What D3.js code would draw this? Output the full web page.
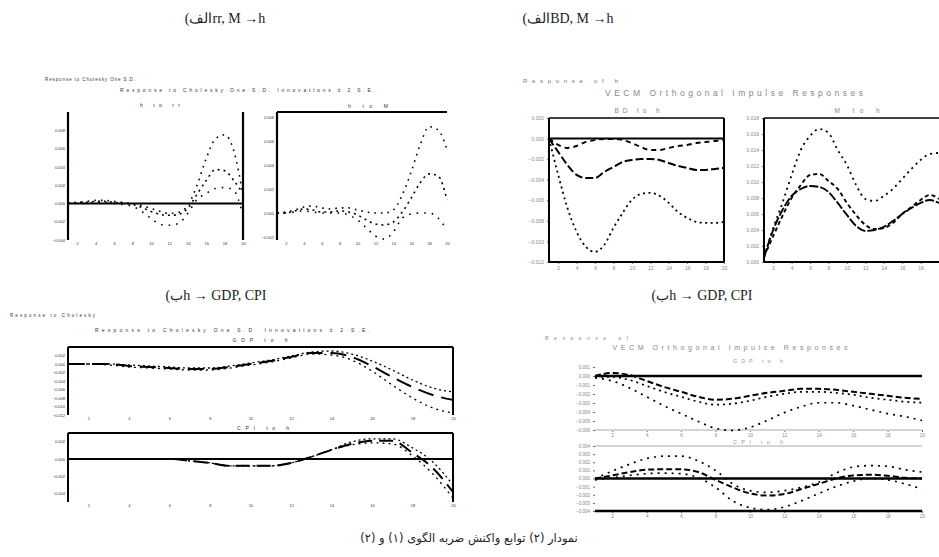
<!DOCTYPE html>
<html lang="fa">
<head>
<meta charset="UTF-8">
<title>Impulse response functions</title>
<script src="https://d3js.org/d3.v7.min.js"></script>
<style>
  body { margin: 0; background: #fff; }
  svg { display: block; }
  .tiny { font-family: "Liberation Sans", Arial, sans-serif; }
</style>
</head>
<body>
<svg id="fig" width="939" height="557"></svg>
<script>
// periods of the impulse responses
const periods = [1, 2, 3, 4, 5, 6, 7, 8, 9, 10, 11, 12, 13, 14, 15, 16, 17, 18, 19, 20];

// (alef) rr, M -> h : left sub-plot
const a1_hi  = [0, 0.00011, 0.00022, 0.00033, 0.00033, 0.00022, 0.00011, 0, -0.00022, -0.00054, -0.00087, -0.00109, -0.00098, -0.00022, 0.00196, 0.00489, 0.00707, 0.0075, 0.00576, 0.00087];
const a1_mid = [0, 0.00011, 0.00011, 0.00022, 0.00022, 0.00011, 0, -0.00011, -0.00043, -0.00087, -0.0012, -0.0013, -0.0012, -0.00054, 0.00098, 0.0025, 0.0037, 0.00359, 0.0025, 0.00109];
const a1_lo  = [0, 0, 0, 0.00011, 0.00011, 0, -0.00011, -0.00033, -0.00087, -0.00163, -0.00228, -0.00239, -0.00217, -0.00109, 0.00043, 0.00109, 0.00163, 0.00174, 0.00141, -0.0013];
// right sub-plot
const a2_hi  = [0, 0.00008, 0.00025, 0.0005, 0.00058, 0.00042, 0.00033, 0.00042, 0.00042, 0.00025, 0.00008, 0, 0, 0.00025, 0.0015, 0.00342, 0.00567, 0.00717, 0.00692, 0.00525];
const a2_mid = [0, 0, 0.00017, 0.00033, 0.00025, 0.00008, 0.00008, 0.00017, 0.00008, -0.00017, -0.00058, -0.00092, -0.001, -0.00075, 0.00008, 0.00125, 0.0025, 0.00325, 0.00308, 0.00108];
const a2_lo  = [0, 0, 0.00008, 0.00017, 0.00008, 0, 0, 0, -0.00017, -0.00058, -0.00125, -0.00192, -0.00217, -0.00158, -0.00042, -0.00008, 0, 0, -0.00042, -0.00142];

// (alef) BD, M -> h
const b1_hi  = [0, -0.00062, -0.00091, -0.00072, -0.00033, -0.00014, -0.00004, -0.00004, -0.00014, -0.00043, -0.00082, -0.00111, -0.00111, -0.00091, -0.00072, -0.00062, -0.00043, -0.00033, -0.00024, -0.00014];
const b1_mid = [0, -0.0013, -0.00256, -0.00353, -0.00383, -0.00383, -0.00324, -0.00276, -0.00227, -0.00208, -0.00198, -0.00198, -0.00208, -0.00237, -0.00266, -0.00285, -0.00305, -0.00305, -0.00295, -0.00285];
const b1_lo  = [0, -0.00353, -0.00674, -0.00907, -0.01053, -0.01101, -0.01033, -0.00868, -0.00722, -0.00596, -0.00538, -0.00528, -0.00557, -0.00625, -0.00713, -0.00771, -0.0081, -0.0082, -0.0082, -0.0081];
const b2_hi  = [0.0005, 0.00425, 0.00738, 0.01088, 0.014, 0.01575, 0.01663, 0.01613, 0.014, 0.01213, 0.00963, 0.00788, 0.00763, 0.00825, 0.00913, 0.01038, 0.01163, 0.01275, 0.0135, 0.01363];
const b2_mid = [0.00063, 0.00325, 0.00575, 0.008, 0.00963, 0.01088, 0.011, 0.01013, 0.00913, 0.00738, 0.00588, 0.00463, 0.00413, 0.00425, 0.00488, 0.006, 0.00688, 0.00775, 0.00838, 0.00788];
const b2_lo  = [0.00063, 0.004, 0.0065, 0.00825, 0.00913, 0.0095, 0.00938, 0.00875, 0.00738, 0.00588, 0.0045, 0.00388, 0.004, 0.00438, 0.00513, 0.006, 0.00675, 0.00738, 0.00775, 0.00738];

// (be) h -> GDP, CPI : left panel
const c1_hi  = [0, 0, 0, -0.00024, -0.00047, -0.00071, -0.00094, -0.00094, -0.00047, 0.00024, 0.00094, 0.00188, 0.00282, 0.00306, 0.00235, 0.00071, -0.00141, -0.00376, -0.00565, -0.00659];
const c1_mid = [0, 0, 0, -0.00047, -0.00071, -0.00094, -0.00118, -0.00118, -0.00071, 0, 0.00071, 0.00165, 0.00259, 0.00259, 0.00165, -0.00047, -0.00306, -0.00541, -0.00729, -0.00847];
const c1_lo  = [0, 0, -0.00024, -0.00071, -0.00094, -0.00118, -0.00141, -0.00141, -0.00094, -0.00024, 0.00047, 0.00141, 0.00235, 0.00212, 0.00094, -0.00165, -0.00494, -0.008, -0.01035, -0.01153];
const c2_hi  = [0, 0, 0, 0, 0, 0, -0.00023, -0.00047, -0.00081, -0.00081, -0.00081, -0.00047, 0.00023, 0.00105, 0.00198, 0.00233, 0.00233, 0.00128, -0.00035, -0.00302];
const c2_mid = [0, 0, 0, 0, 0, 0, -0.00023, -0.00047, -0.00081, -0.00081, -0.00081, -0.00047, 0.00023, 0.00105, 0.00174, 0.00209, 0.00209, 0.0007, -0.00105, -0.00384];
const c2_lo  = [0, 0, 0, 0, 0, 0, -0.00023, -0.00047, -0.00081, -0.00081, -0.00081, -0.00047, 0.00023, 0.00105, 0.00163, 0.00186, 0.00174, 0.00035, -0.00174, -0.00453];

// (be) h -> GDP, CPI : right panel
const d1_hi  = [0, 0.00033, 0.00011, -0.00055, -0.00121, -0.00176, -0.00231, -0.00264, -0.00253, -0.0022, -0.00187, -0.00165, -0.00143, -0.00143, -0.00154, -0.00176, -0.00198, -0.0022, -0.00242, -0.00253];
const d1_mid = [-0.00011, -0.00011, -0.00044, -0.0011, -0.00176, -0.00231, -0.00286, -0.00319, -0.00308, -0.00275, -0.00231, -0.00198, -0.00176, -0.00176, -0.00187, -0.00209, -0.00242, -0.00264, -0.00286, -0.00297];
const d1_lo  = [-0.00022, -0.00055, -0.00132, -0.00231, -0.0033, -0.00418, -0.00505, -0.00582, -0.00604, -0.00571, -0.00495, -0.00407, -0.00341, -0.00297, -0.00297, -0.0033, -0.00374, -0.00418, -0.00451, -0.00495];
const d2_hi  = [-0.00004, 0.00091, 0.00175, 0.00246, 0.00275, 0.00275, 0.00216, 0.001, -0.00066, -0.0015, -0.00171, -0.0015, -0.00109, -0.00046, 0.00066, 0.00141, 0.00159, 0.0015, 0.00109, 0.00079];
const d2_mid = [0, 0.00038, 0.00079, 0.00109, 0.00113, 0.00113, 0.00079, -0.00016, -0.00109, -0.00184, -0.00209, -0.00191, -0.00129, -0.00066, 0, 0.00038, 0.00046, 0.00034, 0.00009, 0];
const d2_lo  = [-0.00016, 0.00009, 0.00038, 0.00059, 0.00066, 0.00059, 0.00009, -0.00109, -0.00275, -0.00359, -0.00384, -0.0035, -0.00275, -0.00184, -0.001, -0.00034, 0, -0.00016, -0.00066, -0.00129];

// tick labels
const ticksA1 = [-0.004, -0.002, 0, 0.002, 0.004, 0.006, 0.008];
const ticksA2 = [-0.002, 0, 0.002, 0.004, 0.006, 0.008];
const ticksB1 = [-0.012, -0.01, -0.008, -0.006, -0.004, -0.002, 0, 0.002];
const ticksB2 = [0, 0.002, 0.004, 0.006, 0.008, 0.01, 0.012, 0.014, 0.016, 0.018];
const ticksC1 = [-0.012, -0.01, -0.008, -0.006, -0.004, -0.002, 0, 0.002];
const ticksC2 = [-0.004, -0.002, 0, 0.002];
const ticksD1 = [-0.006, -0.005, -0.004, -0.003, -0.002, -0.001, 0, 0.001];
const ticksD2 = [-0.004, -0.003, -0.002, -0.001, 0, 0.001, 0.002, 0.003, 0.004];
const xTicks = [2, 4, 6, 8, 10, 12, 14, 16, 18, 20];
const xTicksEdge = [2, 4, 6, 8, 10, 12, 14, 16, 18];

const svg = d3.select("#fig");

function drawSub(c) {
  const x = d3.scaleLinear().domain([1, 20]).range([c.x0, c.x1]);
  const y = d3.scaleLinear().domain(c.yDom).range([c.y1, c.y0]);
  const g = svg.append("g");

  const ya = g.append("g")
    .attr("transform", `translate(${c.x0},0)`)
    .call(d3.axisLeft(y).tickValues(c.yTicks).tickSize(c.tick || 0).tickPadding(3)
      .tickFormat(d3.format(c.fmt || ".3f")));
  ya.select(".domain").remove();
  ya.selectAll("line").attr("stroke", c.tickColor || "#666");
  ya.selectAll("text").attr("class", "tiny").style("font-size", (c.fs || 5) + "px")
    .attr("fill", c.labColor || "#555");

  const xa = g.append("g")
    .attr("transform", `translate(0,${c.y1})`)
    .call(d3.axisBottom(x).tickValues(c.xt || xTicks).tickSize(c.tick || 0).tickPadding(2));
  xa.select(".domain").remove();
  xa.selectAll("line").attr("stroke", c.tickColor || "#666");
  xa.selectAll("text").attr("class", "tiny").style("font-size", (c.fs || 5) + "px")
    .attr("fill", c.labColor || "#555");

  const edge = {
    top: [c.x0, c.y0, c.x1, c.y0],
    bottom: [c.x0, c.y1, c.x1, c.y1],
    left: [c.x0, c.y0, c.x0, c.y1],
    right: [c.x1, c.y0, c.x1, c.y1]
  };
  (c.edges || []).forEach(e => {
    const p = edge[e.side];
    g.append("line")
      .attr("x1", p[0]).attr("y1", p[1]).attr("x2", p[2]).attr("y2", p[3])
      .attr("stroke", e.color || "#000").attr("stroke-width", e.w || 2);
  });

  if (c.zero) {
    g.append("line")
      .attr("x1", c.x0).attr("x2", c.x1)
      .attr("y1", y(0)).attr("y2", y(0))
      .attr("stroke", "#000").attr("stroke-width", c.zero);
  }

  const line = d3.line()
    .x((d, i) => x(periods[i]))
    .y(d => y(d))
    .curve(d3.curveMonotoneX);

  c.series.forEach(s => {
    g.append("path")
      .datum(s.data)
      .attr("d", line)
      .attr("fill", "none")
      .attr("stroke", s.color || "#000")
      .attr("stroke-width", s.w || 1.6)
      .attr("stroke-dasharray", s.dash || null)
      .attr("stroke-linecap", "butt");
  });

  if (c.title) {
    g.append("text")
      .attr("class", "tiny")
      .attr("x", c.title.x).attr("y", c.title.y)
      .attr("text-anchor", "middle")
      .style("font-size", (c.title.fs || 6) + "px")
      .attr("fill", c.title.color || "#444")
      .attr("textLength", c.title.len || null)
      .attr("lengthAdjust", "spacing")
      .text(c.title.text);
  }
}

function label(t, x, y, fs, color, len, anchor) {
  svg.append("text")
    .attr("class", "tiny")
    .attr("x", x).attr("y", y)
    .attr("text-anchor", anchor || "start")
    .style("font-size", fs + "px")
    .attr("fill", color)
    .attr("textLength", len || null)
    .attr("lengthAdjust", "spacing")
    .text(t);
}

// ---------- panel (alef) rr, M -> h ----------
label("Response to Cholesky One S.D.", 45, 81, 4.5, "#333", 90);
label("Response to Cholesky One S.D. Innovations ± 2 S.E.", 120, 92, 5, "#333", 255);
drawSub({
  x0: 68, x1: 243, y0: 112, y1: 240, yDom: [-0.004, 0.01], yTicks: ticksA1,
  fs: 4, labColor: "#333",
  edges: [{side: "left", w: 2.2}, {side: "right", w: 2.2}],
  zero: 2,
  title: {text: "h to rr", x: 160, y: 107, fs: 5, len: 40, color: "#333"},
  series: [
    {data: a1_hi, dash: "1.6,5", w: 1.6},
    {data: a1_mid, dash: "2,4", w: 1.6},
    {data: a1_lo, dash: "1.6,6", w: 1.6}
  ]
});
drawSub({
  x0: 277, x1: 447, y0: 112, y1: 240, yDom: [-0.00225, 0.0084], yTicks: ticksA2,
  fs: 4, labColor: "#333",
  edges: [{side: "left", w: 2.2}, {side: "top", w: 2.2}],
  title: {text: "h to M", x: 368, y: 108, fs: 5, len: 40, color: "#333"},
  series: [
    {data: a2_hi, dash: "1.6,5", w: 1.6},
    {data: a2_mid, dash: "2,4", w: 1.6},
    {data: a2_lo, dash: "1.6,6", w: 1.6}
  ]
});

// ---------- panel (alef) BD, M -> h ----------
label("Response of h", 523, 83, 6, "#777", 95);
label("VECM Orthogonal Impulse Responses", 734, 96, 8.5, "#888", 258, "middle");
drawSub({
  x0: 549, x1: 724, y0: 118, y1: 262, yDom: [-0.012, 0.002], yTicks: ticksB1,
  fs: 5, labColor: "#888", tick: 2,
  edges: [{side: "top", w: 1.6}, {side: "left", w: 2}, {side: "bottom", w: 2}, {side: "right", w: 2}],
  zero: 2,
  title: {text: "BD to h", x: 637, y: 113, fs: 6.5, len: 45, color: "#888"},
  series: [
    {data: b1_hi, dash: "5,4", w: 1.9},
    {data: b1_mid, dash: "8,3", w: 2},
    {data: b1_lo, dash: "2,3.5", w: 1.8}
  ]
});
drawSub({
  x0: 764, x1: 939, y0: 118, y1: 262, yDom: [0, 0.018], yTicks: ticksB2,
  fs: 5, labColor: "#888", tick: 2, xt: xTicksEdge,
  edges: [{side: "top", w: 1.6}, {side: "left", w: 2}, {side: "bottom", w: 2}],
  title: {text: "M to h", x: 857, y: 113, fs: 6.5, len: 45, color: "#888"},
  series: [
    {data: b2_hi, dash: "2,4", w: 1.8},
    {data: b2_mid, dash: "4,3", w: 1.9},
    {data: b2_lo, dash: "9,2", w: 1.9}
  ]
});

// ---------- panel (be) h -> GDP, CPI : left ----------
label("Response to Cholesky", 10, 317, 4.5, "#333", 85);
label("Response to Cholesky One S.D. Innovations ± 2 S.E.", 95, 332, 5, "#333", 275);
drawSub({
  x0: 68, x1: 453, y0: 347, y1: 415, yDom: [-0.012, 0.004], yTicks: ticksC1,
  fs: 4, labColor: "#333",
  edges: [{side: "top", w: 2}, {side: "left", w: 2}, {side: "right", w: 2}],
  title: {text: "GDP to h", x: 260, y: 342, fs: 5, len: 55, color: "#333"},
  series: [
    {data: c1_hi, dash: "2,3", w: 1.3},
    {data: c1_mid, dash: "16,8", w: 2},
    {data: c1_lo, dash: "2,4", w: 1.3}
  ]
});
drawSub({
  x0: 68, x1: 453, y0: 433, y1: 502, yDom: [-0.005, 0.003], yTicks: ticksC2,
  fs: 4, labColor: "#333",
  edges: [{side: "top", w: 2}, {side: "left", w: 2}, {side: "right", w: 2}],
  zero: 2,
  title: {text: "CPI to h", x: 263, y: 430, fs: 5, len: 52, color: "#333"},
  series: [
    {data: c2_hi, dash: "2,3", w: 1.3},
    {data: c2_mid, dash: "14,7", w: 2},
    {data: c2_lo, dash: "2,4", w: 1.3}
  ]
});

// ---------- panel (be) h -> GDP, CPI : right ----------
label("Response of", 545, 340, 5, "#888", 83);
label("VECM Orthogonal Impulse Responses", 730, 350, 7, "#888", 235, "middle");
drawSub({
  x0: 595, x1: 922, y0: 367, y1: 430, yDom: [-0.006, 0.001], yTicks: ticksD1,
  fs: 4.5, labColor: "#888", tick: 2,
  edges: [{side: "bottom", w: 2, color: "#d4d4d4"}],
  zero: 2.4,
  title: {text: "GDP to h", x: 758, y: 363, fs: 5.5, len: 50, color: "#999"},
  series: [
    {data: d1_hi, dash: "6,3", w: 2},
    {data: d1_mid, dash: "2,4", w: 1.7},
    {data: d1_lo, dash: "2,5", w: 1.7}
  ]
});
drawSub({
  x0: 595, x1: 922, y0: 446, y1: 511, yDom: [-0.004, 0.004], yTicks: ticksD2,
  fs: 4.5, labColor: "#888", tick: 2,
  edges: [{side: "top", w: 2, color: "#d4d4d4"}, {side: "bottom", w: 2.4}],
  zero: 2.4,
  title: {text: "CPI to h", x: 758, y: 444, fs: 5.5, len: 50, color: "#999"},
  series: [
    {data: d2_hi, dash: "2,5", w: 1.7},
    {data: d2_mid, dash: "6,3", w: 2},
    {data: d2_lo, dash: "2,5", w: 1.7}
  ]
});

// ---------- captions ----------
const caps = [
  {t: "(الفrr, M →h", x: 225, y: 23},
  {t: "(الفBD, M →h", x: 568, y: 23},
  {t: "(بh → GDP, CPI", x: 216, y: 300},
  {t: "(بh → GDP, CPI", x: 702, y: 300}
];
caps.forEach(c => {
  svg.append("text")
    .attr("x", c.x).attr("y", c.y)
    .attr("text-anchor", "middle")
    .attr("direction", "ltr")
    .style("font-family", "'Liberation Serif', 'DejaVu Serif', serif")
    .style("font-size", "14px")
    .style("font-weight", "normal")
    .attr("fill", "#222")
    .text(c.t);
});
svg.append("text")
  .attr("x", 469).attr("y", 542)
  .attr("text-anchor", "middle")
  .attr("direction", "rtl")
  .style("font-family", "'DejaVu Sans', 'Noto Sans', serif")
  .style("font-size", "11.5px")
  .style("font-weight", "normal")
  .attr("fill", "#222")
  .text("نمودار (۲) توابع واکنش ضربه الگوی (۱) و (۲)");
</script>
</body>
</html>
